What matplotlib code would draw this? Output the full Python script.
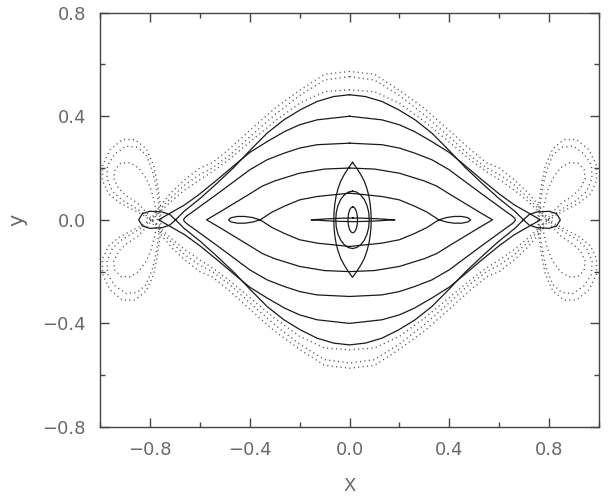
import numpy as np
import matplotlib
matplotlib.use("Agg")
import matplotlib.pyplot as plt
from matplotlib.ticker import MultipleLocator, FuncFormatter

# Each orbit is stored as the path through its upper-left part, from the top
# (x = 0) out to where it meets the x axis. |x| is used; the full orbit is
# rebuilt from the mirror symmetries in x and y.

# small central ellipse
ell_small_x = [0.0, 0.005, 0.0095, 0.0134, 0.0165, 0.0184, 0.019]
ell_small_y = [0.05, 0.0483, 0.0433, 0.0354, 0.025, 0.0129, 0.0]

# middle central ellipse
ell_mid_x = [0.0, 0.017, 0.033, 0.047, 0.058, 0.065, 0.067]
ell_mid_y = [0.111, 0.107, 0.096, 0.079, 0.056, 0.029, 0.0]

# tall pointed orbit
ell_tall_x = [0.0, 0.018, 0.033, 0.047, 0.058, 0.066, 0.071, 0.074, 0.075]
ell_tall_y = [0.222, 0.198, 0.175, 0.15, 0.12, 0.09, 0.06, 0.03, 0.0]

# thin orbit along the x axis
bar_x = [0.0, 0.05, 0.10, 0.14, 0.168]
bar_y = [0.007, 0.006, 0.004, 0.0015, 0.0]

# orbit with the small loops at its ends
fish_x = [0.0, 0.13, 0.20, 0.26, 0.31, 0.358, 0.39, 0.42, 0.45, 0.475, 0.485]
fish_y = [0.103, 0.09, 0.077, 0.053, 0.03, 0.0, -0.009, -0.013, -0.013, -0.008, 0.0]

# pointed orbit
lens1_x = [0.0, 0.10, 0.20, 0.30, 0.35, 0.40, 0.46, 0.52, 0.573]
lens1_y = [0.2, 0.196, 0.18, 0.15, 0.13, 0.10, 0.065, 0.03, 0.0]

# orbit with rounded ends
lens2_x = [0.0, 0.13, 0.20, 0.26, 0.33, 0.40, 0.46, 0.53, 0.59, 0.63, 0.652, 0.662, 0.665]
lens2_y = [0.296, 0.29, 0.277, 0.258, 0.232, 0.193, 0.15, 0.10, 0.058, 0.03, 0.015, 0.006, 0.0]

# pointed orbit reaching x = 0.765
lens3_x = [0.0, 0.13, 0.20, 0.26, 0.33, 0.40, 0.46, 0.53, 0.60, 0.66, 0.72, 0.765]
lens3_y = [0.40, 0.386, 0.367, 0.341, 0.302, 0.26, 0.212, 0.155, 0.10, 0.058, 0.025, 0.0]

# outer solid orbit, crossing at x = 0.697 and looping out to 0.845
lens4_x = [0.0, 0.064, 0.13, 0.197, 0.263, 0.33, 0.397, 0.464, 0.53, 0.597, 0.664, 0.697,
           0.72, 0.75, 0.80, 0.83, 0.845]
lens4_y = [0.483, 0.476, 0.457, 0.425, 0.386, 0.335, 0.27, 0.202, 0.142, 0.084, 0.032, 0.0,
           -0.02, -0.03, -0.033, -0.024, 0.0]

# dotted orbits: envelope down to the axis, then the petal below the axis
dot1_x = [0.0, 0.10, 0.20, 0.30, 0.40, 0.48, 0.55, 0.60, 0.66, 0.71, 0.75, 0.78, 0.80,
          0.83, 0.87, 0.92, 0.965, 0.99, 0.99, 0.96, 0.91, 0.86, 0.815, 0.785, 0.77, 0.76, 0.755]
dot1_y = [0.573, 0.562, 0.50, 0.43, 0.345, 0.275, 0.22, 0.2, 0.155, 0.11, 0.065, 0.025, 0.0,
          -0.02, -0.04, -0.065, -0.10, -0.15, -0.21, -0.27, -0.31, -0.31, -0.275, -0.21, -0.14, -0.07, 0.0]

dot2_x = [0.0, 0.10, 0.20, 0.30, 0.40, 0.48, 0.55, 0.60, 0.66, 0.71, 0.75, 0.78, 0.795,
          0.825, 0.865, 0.91, 0.95, 0.972, 0.97, 0.94, 0.895, 0.85, 0.815, 0.79, 0.775, 0.765, 0.76]
dot2_y = [0.553, 0.54, 0.48, 0.405, 0.32, 0.25, 0.2, 0.175, 0.135, 0.09, 0.05, 0.015, 0.0,
          -0.025, -0.05, -0.075, -0.11, -0.16, -0.21, -0.255, -0.285, -0.28, -0.25, -0.19, -0.13, -0.065, 0.0]

dot3_x = [0.0, 0.10, 0.20, 0.30, 0.40, 0.48, 0.55, 0.60, 0.66, 0.71, 0.75, 0.775, 0.79,
          0.815, 0.85, 0.89, 0.925, 0.945, 0.94, 0.915, 0.88, 0.845, 0.815, 0.795, 0.78, 0.77]
dot3_y = [0.502, 0.495, 0.45, 0.38, 0.30, 0.235, 0.185, 0.155, 0.115, 0.075, 0.04, 0.015, 0.0,
          -0.03, -0.065, -0.09, -0.12, -0.16, -0.195, -0.22, -0.22, -0.2, -0.16, -0.115, -0.06, 0.0]

solid_orbits = [
    (ell_small_x, ell_small_y, 0.013),
    (ell_mid_x, ell_mid_y, 0.012),
    (ell_tall_x, ell_tall_y, 0.012),
    (bar_x, bar_y, 0.014),
    (fish_x, fish_y, 0.0),
    (lens1_x, lens1_y, 0.0),
    (lens2_x, lens2_y, 0.0),
    (lens3_x, lens3_y, 0.0),
    (lens4_x, lens4_y, 0.0),
]
dotted_orbits = [(dot1_x, dot1_y), (dot2_x, dot2_y), (dot3_x, dot3_y)]


def full_orbit(qx, qy, cx=0.0):
    x = -np.asarray(qx, dtype=float)
    y = np.asarray(qy, dtype=float)
    # left half: the stored path, then its reflection in y walked backwards
    lx = np.concatenate([x, x[::-1]])
    ly = np.concatenate([y, -y[::-1]])
    # right half: mirror of the left half in x, walked backwards
    fx = np.concatenate([lx, -lx[::-1]])
    fy = np.concatenate([ly, ly[::-1]])
    return fx + cx, fy


def tick_fmt(v, pos):
    return ('%.1f' % v).replace('-', '\u2212')


plt.rcParams['font.family'] = ['DejaVu Sans']
fig = plt.figure(figsize=(6.09, 4.98), dpi=100)
ax = fig.add_axes([0.1642, 0.1426, 0.8194, 0.832])

for qx, qy in dotted_orbits:
    ox, oy = full_orbit(qx, qy)
    ax.plot(ox, oy, color='#555555', lw=1.0, linestyle=(0, (0.8, 2.4)))

for qx, qy, cx in solid_orbits:
    ox, oy = full_orbit(qx, qy, cx)
    ax.plot(ox, oy, color='#1a1a1a', lw=0.9)

ax.set_xlim(-1.0, 1.0)
ax.set_ylim(-0.8, 0.8)
ax.set_xticks([-0.8, -0.4, 0.0, 0.4, 0.8])
ax.set_yticks([-0.8, -0.4, 0.0, 0.4, 0.8])
ax.xaxis.set_minor_locator(MultipleLocator(0.2))
ax.yaxis.set_minor_locator(MultipleLocator(0.2))
ax.xaxis.set_major_formatter(FuncFormatter(tick_fmt))
ax.yaxis.set_major_formatter(FuncFormatter(tick_fmt))

ax.tick_params(which='both', direction='in', top=True, right=True,
               color='#444444', width=1.0, labelcolor='#6a6a6a', labelsize=13)
ax.tick_params(which='major', length=6.5, pad=10)
ax.tick_params(which='minor', length=3.5)
for sp in ax.spines.values():
    sp.set_color('#444444')
    sp.set_linewidth(1.0)

ax.set_xlabel('X', fontsize=13, color='#6a6a6a', labelpad=13)
ax.set_ylabel('y', fontsize=15, color='#6a6a6a', labelpad=11)

fig.savefig('out.png', dpi=100)
